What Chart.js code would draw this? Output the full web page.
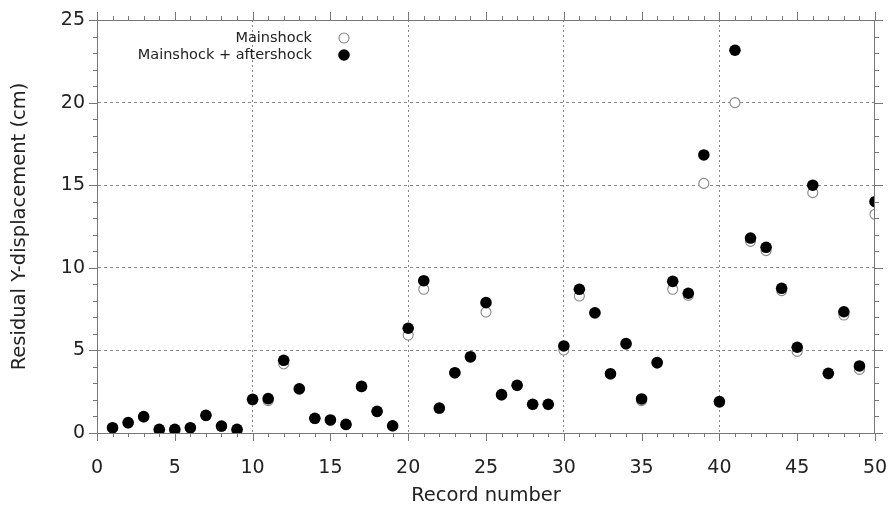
<!DOCTYPE html>
<html>
<head>
<meta charset="utf-8">
<script src="https://cdn.jsdelivr.net/npm/chart.js@4/dist/chart.umd.min.js"></script>
<style>
  html, body { margin: 0; padding: 0; background: #fff; }
  #wrap { width: 890px; height: 512px; }
</style>
</head>
<body>
<div id="wrap"><canvas id="c" width="890" height="512"></canvas></div>
<script>
const records = Array.from({length: 50}, (_, i) => i + 1);
const mainshock = [0.30,0.60,0.97,0.12,0.10,0.30,1.05,0.40,0.12,2.00,
  1.96,4.18,2.65,0.87,0.77,0.50,2.80,1.29,0.42,5.93,
  8.70,1.49,3.62,4.58,7.32,2.29,2.87,1.72,1.72,5.02,
  8.29,7.25,3.56,5.38,1.96,4.23,8.70,8.33,15.11,1.85,
  20.00,11.60,11.04,8.62,4.94,14.55,3.58,7.14,3.85,13.24];
const mainAfter = [0.32,0.63,0.99,0.22,0.22,0.32,1.07,0.42,0.22,2.04,
  2.08,4.40,2.68,0.89,0.79,0.52,2.82,1.31,0.44,6.34,
  9.22,1.51,3.65,4.62,7.89,2.32,2.89,1.74,1.74,5.27,
  8.70,7.28,3.59,5.41,2.06,4.26,9.18,8.46,16.83,1.90,
  23.17,11.80,11.24,8.76,5.19,15.00,3.61,7.34,4.06,14.00];
const seriesNames = ['Mainshock', 'Mainshock + aftershock'];
const xTitle = 'Record number';
const yTitle = 'Residual Y-displacement (cm)';

const FONT = "'DejaVu Sans', sans-serif";
const TXT = '#222';

const framePlugin = {
  id: 'frame',
  afterDatasetsDraw(chart) {
    const {ctx, chartArea: a, scales: {x, y}} = chart;
    ctx.save();
    ctx.strokeStyle = '#777';
    ctx.lineWidth = 1;
    ctx.beginPath();
    ctx.moveTo(a.left, a.top + 0.5); ctx.lineTo(a.right, a.top + 0.5);
    ctx.moveTo(a.right - 0.5, a.top); ctx.lineTo(a.right - 0.5, a.bottom);
    for (let v = 0; v <= 50; v++) {
      const px = Math.round(x.getPixelForValue(v)) + 0.5;
      const len = v % 5 === 0 ? 8 : 4;
      ctx.moveTo(px, a.bottom); ctx.lineTo(px, a.bottom + len);
      ctx.moveTo(px, a.top); ctx.lineTo(px, a.top - len);
    }
    for (let v = 0; v <= 25; v++) {
      const py = Math.round(y.getPixelForValue(v)) + 0.5;
      const len = v % 5 === 0 ? 8 : 4;
      ctx.moveTo(a.left - len, py); ctx.lineTo(a.left, py);
      ctx.moveTo(a.right, py); ctx.lineTo(a.right + len, py);
    }
    ctx.stroke();
    // legend
    ctx.font = '14.5px ' + FONT;
    ctx.fillStyle = TXT;
    ctx.textAlign = 'right';
    ctx.textBaseline = 'middle';
    const lx = 312, mx = 344;
    const rows = [38, 55];
    ctx.fillText(seriesNames[0], lx, rows[0]);
    ctx.fillText(seriesNames[1], lx, rows[1]);
    ctx.beginPath();
    ctx.arc(mx, rows[0], 5, 0, Math.PI * 2);
    ctx.strokeStyle = '#888';
    ctx.lineWidth = 1.1;
    ctx.fillStyle = '#fff';
    ctx.fill(); ctx.stroke();
    ctx.beginPath();
    ctx.arc(mx, rows[1], 5.8, 0, Math.PI * 2);
    ctx.fillStyle = '#000';
    ctx.fill();
    ctx.restore();
  }
};

new Chart(document.getElementById('c'), {
  type: 'scatter',
  data: {
    datasets: [
      {
        label: seriesNames[0],
        data: records.map((r, i) => ({x: r, y: mainshock[i]})),
        pointRadius: 5,
        pointBorderWidth: 1.1,
        pointBorderColor: '#888',
        pointBackgroundColor: 'rgba(255,255,255,1)',
        order: 2
      },
      {
        label: seriesNames[1],
        data: records.map((r, i) => ({x: r, y: mainAfter[i]})),
        pointRadius: 5.8,
        pointBorderWidth: 0,
        pointBorderColor: '#000',
        pointBackgroundColor: '#000',
        order: 1
      }
    ]
  },
  options: {
    responsive: false,
    animation: false,
    events: [],
    layout: { padding: { top: 20, right: 15, left: 0, bottom: 0 } },
    plugins: { legend: { display: false }, tooltip: { enabled: false } },
    scales: {
      x: {
        type: 'linear', min: 0, max: 50,
        afterFit(s) { s.height = 79; s.paddingRight = 0; s.paddingLeft = 0; },
        ticks: { stepSize: 5, color: TXT, font: { family: FONT, size: 19 }, padding: 24, maxRotation: 0 },
        grid: {
          drawTicks: false,
          color: c => (c.tick && c.tick.value % 10 === 0 && c.tick.value > 0 && c.tick.value < 50) ? '#888' : 'rgba(0,0,0,0)',
          lineWidth: 1
        },
        border: { display: true, color: '#777', width: 1, dash: [2, 3] },
        title: { display: true, text: xTitle, color: TXT, font: { family: FONT, size: 19.5 }, padding: { top: 0, bottom: 4 } }
      },
      y: {
        type: 'linear', min: 0, max: 25,
        afterFit(s) { s.width = 97; s.paddingTop = 0; s.paddingBottom = 0; },
        ticks: { stepSize: 5, color: TXT, font: { family: FONT, size: 19 }, padding: 12 },
        grid: {
          drawTicks: false,
          color: c => (c.tick && c.tick.value > 0 && c.tick.value < 25) ? '#888' : 'rgba(0,0,0,0)',
          lineWidth: 1
        },
        border: { display: true, color: '#777', width: 1, dash: [3, 3] },
        title: { display: true, text: yTitle, color: TXT, font: { family: FONT, size: 19.5 }, padding: { top: 8, bottom: 0 } }
      }
    }
  },
  plugins: [framePlugin]
});
</script>
</body>
</html>
